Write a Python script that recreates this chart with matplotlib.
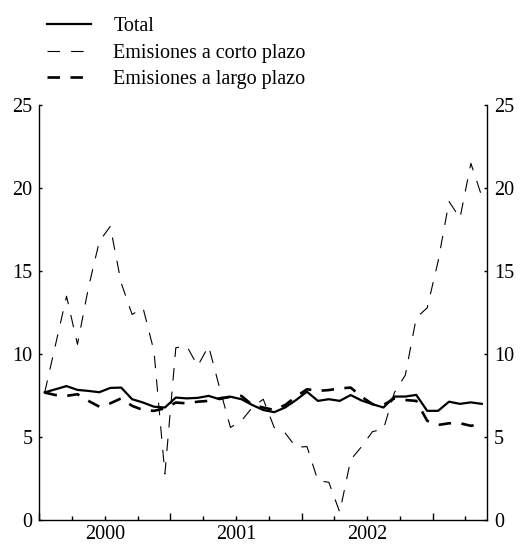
import numpy as np
import matplotlib
matplotlib.use('Agg')
import matplotlib.pyplot as plt
from matplotlib.ticker import FixedLocator, FixedFormatter

plt.rcParams['font.family'] = ['Liberation Serif', 'DejaVu Serif']
plt.rcParams['lines.scale_dashes'] = False

# datos mensuales, enero 2000 - mayo 2003
total = [7.71, 7.9, 8.09, 7.86, 7.8, 7.72, 7.98, 8.0, 7.3, 7.1,
         6.85, 6.8, 7.4, 7.35, 7.38, 7.5, 7.3, 7.45, 7.3, 6.95,
         6.65, 6.52, 6.8, 7.25, 7.75, 7.2, 7.3, 7.2, 7.55, 7.22,
         7.0, 6.8, 7.46, 7.46, 7.56, 6.6, 6.6, 7.15, 7.02, 7.11, 7.02]
corto = [7.7, 10.6, 13.5, 10.6, 14.0, 16.8, 17.7, 14.3, 12.4, 12.8,
         10.2, 2.8, 10.4, 10.5, 9.3, 10.5, 8.0, 5.6, 6.0, 6.8,
         7.3, 5.6, 5.27, 4.4, 4.45, 2.4, 2.3, 0.5, 3.65, 4.45,
         5.35, 5.5, 7.7, 8.75, 12.2, 12.8, 15.6, 19.2, 18.2, 21.5, 19.5]
largo = [7.7, 7.55, 7.5, 7.6, 7.2, 6.85, 7.05, 7.35, 6.9, 6.65,
         6.6, 6.75, 7.1, 7.05, 7.15, 7.2, 7.35, 7.45, 7.5, 6.95,
         6.8, 6.65, 6.95, 7.45, 7.9, 7.8, 7.85, 7.95, 8.0, 7.45,
         7.0, 6.95, 7.35, 7.25, 7.2, 6.0, 5.75, 5.85, 5.85, 5.7, 5.8]
anios = ['2000', '2001', '2002']
nombres = ['Total', 'Emisiones a corto plazo', 'Emisiones a largo plazo']

x = np.arange(len(total)) + 0.5  # mitad de cada mes

fig = plt.figure(figsize=(5.2, 5.45), dpi=100)
ax = fig.add_axes([0.0754, 0.045, 0.8617, 0.762])

ax.plot(x, total, color='black', lw=1.6, label=nombres[0])
ax.plot(x, corto, color='black', lw=0.8, dashes=(9, 8), label=nombres[1])
ax.plot(x, largo, color='black', lw=1.9, dashes=(9, 7.5), label=nombres[2])

ax.set_xlim(0, 41)
ax.set_ylim(0, 25)
ax.set_yticks(range(0, 26, 5))

# ticks largos en el cambio de año, cortos por trimestre
ax.xaxis.set_major_locator(FixedLocator([0, 12, 24, 36]))
ax.xaxis.set_major_formatter(FixedFormatter(['', '', '', '']))
trim = [3, 6, 9, 15, 18, 21, 27, 30, 33, 39]
etiq = ['', anios[0], '', '', anios[1], '', '', anios[2], '', '']
ax.xaxis.set_minor_locator(FixedLocator(trim))
ax.xaxis.set_minor_formatter(FixedFormatter(etiq))
ax.tick_params(axis='x', which='major', direction='in', length=5, width=1)
ax.tick_params(axis='x', which='minor', direction='in', length=3, width=1,
               labelsize=14.5, pad=3)
ax.tick_params(axis='y', direction='in', length=2.5, width=1, labelsize=14.5,
               left=True, right=True, labelleft=True, labelright=True, pad=5)

ax.spines['top'].set_visible(False)
for s in ['left', 'right', 'bottom']:
    ax.spines[s].set_linewidth(1)

fig.legend(loc='upper left', bbox_to_anchor=(0.063, 0.995), frameon=False,
           fontsize=14.5, handlelength=2.2, handletextpad=1.1,
           labelspacing=0.38, borderaxespad=0.3)

fig.savefig('out.png', dpi=100)
